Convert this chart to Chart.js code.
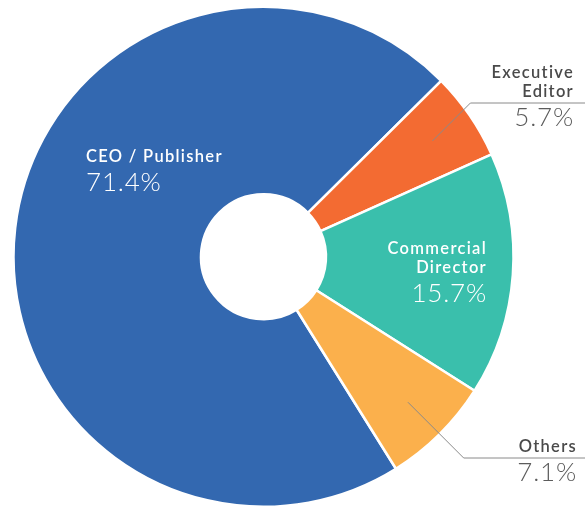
<!DOCTYPE html>
<html>
<head>
<meta charset="utf-8">
<script src="https://cdn.jsdelivr.net/npm/chart.js@4.4.0/dist/chart.umd.min.js"></script>
<style>
  html, body { margin: 0; padding: 0; background: #fff; }
  #wrap { width: 585px; height: 506px; position: relative; }
</style>
</head>
<body>
<div id="wrap"><canvas id="roles"></canvas></div>
<script>
const categories = ['CEO / Publisher', 'Executive Editor', 'Commercial Director', 'Others'];
const labelLines = [['CEO / Publisher'], ['Executive', 'Editor'], ['Commercial', 'Director'], ['Others']];
const shares = [71.4, 5.7, 15.7, 7.1];
const sliceColors = ['#3368B0', '#F36B32', '#3ABFAC', '#FBB04C'];

// where each label block sits, and whether it is drawn inside the slice
const labelSpots = [
  { x: 86,  y: 162, align: 'left',  inside: true },
  { x: 574, y: 78,  align: 'right', inside: false, leader: true },
  { x: 487, y: 254, align: 'right', inside: true },
  { x: 577, y: 452, align: 'right', inside: false, leader: true }
];

const sliceLabels = {
  id: 'sliceLabels',
  afterDatasetsDraw(chart) {
    const ctx = chart.ctx;
    const arcs = chart.getDatasetMeta(0).data;
    ctx.save();
    arcs.forEach((arc, i) => {
      const spot = labelSpots[i];
      const lines = labelLines[i];
      const lastBase = spot.y + (lines.length - 1) * 19;

      if (spot.leader) {
        const mid = (arc.startAngle + arc.endAngle) / 2;
        const r = arc.outerRadius * 0.82;
        const sx = arc.x + Math.cos(mid) * r;
        const sy = arc.y + Math.sin(mid) * r;
        const ey = lastBase + 6;
        const ex = sx + Math.abs(sy - ey);
        ctx.beginPath();
        ctx.strokeStyle = '#8a8a8a';
        ctx.lineWidth = 1;
        ctx.moveTo(sx, sy);
        ctx.lineTo(ex, ey);
        ctx.lineTo(585, ey);
        ctx.stroke();
      }

      ctx.textAlign = spot.align;
      ctx.textBaseline = 'alphabetic';
      ctx.fillStyle = spot.inside ? '#ffffff' : '#4a4a4a';
      ctx.font = '600 16.5px Lato';
      ctx.letterSpacing = '1.3px';
      lines.forEach((t, k) => ctx.fillText(t, spot.x, spot.y + k * 19));
      ctx.fillStyle = spot.inside ? '#ffffff' : '#5c5c5c';
      ctx.font = '300 26px Lato';
      ctx.letterSpacing = '0.8px';
      ctx.fillText(shares[i].toFixed(1) + '%', spot.x, lastBase + 29);
    });
    ctx.restore();
  }
};

new Chart(document.getElementById('roles'), {
  type: 'doughnut',
  data: {
    labels: categories,
    datasets: [{
      data: shares,
      backgroundColor: sliceColors,
      borderColor: '#ffffff',
      borderWidth: 2.5,
      hoverOffset: 0,
      radius: 250
    }]
  },
  options: {
    responsive: true,
    maintainAspectRatio: false,
    animation: false,
    cutout: '25%',
    rotation: 148,
    layout: { padding: { left: 13.5, right: 71.5, top: 7.5, bottom: -1.5 } },
    plugins: {
      legend: { display: false },
      tooltip: { enabled: false }
    }
  },
  plugins: [sliceLabels]
});
</script>
</body>
</html>
